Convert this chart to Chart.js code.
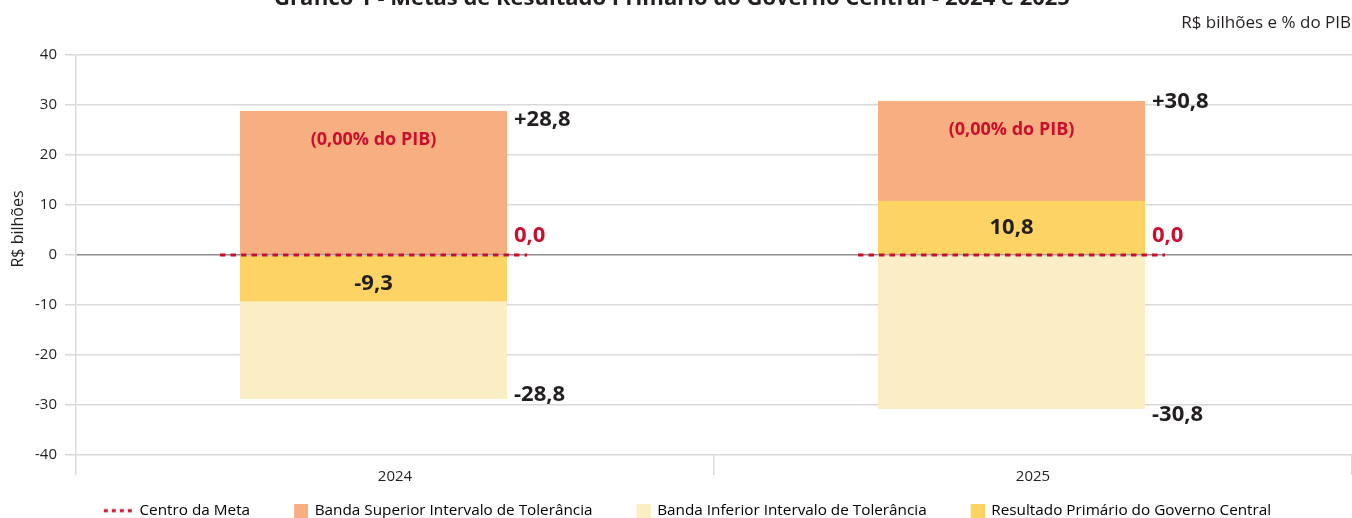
<!DOCTYPE html>
<html><head><meta charset="utf-8">
<script src="https://cdn.jsdelivr.net/npm/chart.js@4.4.1/dist/chart.umd.min.js"></script>
<style>html,body{margin:0;padding:0;background:#fff;overflow:hidden}#wrap{position:relative;width:1352px;height:518px}</style>
</head><body><div id="wrap"><canvas id="c"></canvas></div>
<script>
// ---- data ----
const categories = ['2024', '2025'];
const centroMeta = [0.0, 0.0];
const bandaSuperior = [28.8, 30.8];
const bandaInferior = [-28.8, -30.8];
const resultadoPrimario = [-9.3, 10.8];
const pctPib = ['0,00', '0,00'];
const yTicks = [-40, -30, -20, -10, 0, 10, 20, 30, 40];
const titleText = 'Gráfico 1 - Metas de Resultado Primário do Governo Central - 2024 e 2025';
const unitText = 'R$ bilhões e % do PIB';
const yTitle = 'R$ bilhões';
const legendLabels = ['Centro da Meta', 'Banda Superior Intervalo de Tolerância', 'Banda Inferior Intervalo de Tolerância', 'Resultado Primário do Governo Central'];

// ---- style ----
const C_SUP = '#F7AE80', C_INF = '#FCEEC4', C_RES = '#FDD464', RED = '#C8102E', DARK = '#231F20';
const GRID = '#d9d9d9', ZERO = '#8c8c8c';
const FONT = "'Open Sans', 'DejaVu Sans', sans-serif";
const PAD_LEFT = 11;
const ICON_W = 40;
const supNudge = [9, 1], infNudge = [-4, 6], resNudge = [5, 0];

const fmt = v => v.toFixed(1).replace('.', ',');
const fmtSigned = v => (v > 0 ? '+' : '') + fmt(v);

// legend icons (drawn at the right end of a wider box)
function makeIcon(kind, color) {
  const c = document.createElement('canvas');
  c.width = ICON_W + 2; c.height = 14;
  const g = c.getContext('2d');
  if (kind === 'dash') {
    g.strokeStyle = color; g.lineWidth = 3; g.setLineDash([4, 4]);
    g.beginPath(); g.moveTo(c.width - 29, 7); g.lineTo(c.width - 1, 7); g.stroke();
  } else {
    g.fillStyle = color; g.fillRect(c.width - 14, 0, 14, 14);
  }
  return c;
}

const barOpts = { stack: 'meta', categoryPercentage: 0.1348, barPercentage: 6.21, borderWidth: 0 };

const annot = {
  id: 'annot',
  afterDatasetsDraw(chart) {
    const { ctx, scales: { y } } = chart;
    const meta = chart.getDatasetMeta(0);
    ctx.save();
    meta.data.forEach((bar, i) => {
      const half = bar.width / 2;
      const left = bar.x - half, right = bar.x + half;
      const y0 = y.getPixelForValue(centroMeta[i]);
      const ySup = y.getPixelForValue(bandaSuperior[i]);
      const yInf = y.getPixelForValue(bandaInferior[i]);
      const yRes = y.getPixelForValue(resultadoPrimario[i]);
      ctx.strokeStyle = RED; ctx.lineWidth = 3; ctx.setLineDash([5.5, 5]);
      ctx.beginPath(); ctx.moveTo(left - 20, y0); ctx.lineTo(right + 20, y0); ctx.stroke();
      ctx.setLineDash([]);
      ctx.textBaseline = 'middle';
      ctx.font = "bold 18px " + FONT; ctx.fillStyle = RED; ctx.textAlign = 'center';
      ctx.fillText('(' + pctPib[i] + '% do PIB)', bar.x, ySup + 29);
      ctx.font = "bold 22px " + FONT; ctx.textAlign = 'left';
      ctx.fillStyle = DARK;
      ctx.fillText(fmtSigned(bandaSuperior[i]), right + 7, ySup + supNudge[i]);
      ctx.fillText(fmt(bandaInferior[i]), right + 7, yInf + infNudge[i]);
      ctx.fillStyle = RED;
      ctx.fillText(fmt(centroMeta[i]), right + 7, y0 - 19);
      ctx.fillStyle = DARK; ctx.textAlign = 'center';
      ctx.fillText(fmt(resultadoPrimario[i]), bar.x, (y0 + yRes) / 2 + resNudge[i]);
    });
    ctx.restore();
  },
  afterDraw(chart) {
    const ctx = chart.ctx;
    ctx.save();
    ctx.fillStyle = DARK;
    ctx.textBaseline = 'alphabetic';
    ctx.font = "bold 22px " + FONT; ctx.textAlign = 'center';
    ctx.fillText(titleText, chart.width / 2 - 4, 5);
    ctx.font = "17px " + FONT; ctx.textAlign = 'right';
    ctx.fillText(unitText, chart.width - 1, 28);
    ctx.translate(18, 229); ctx.rotate(-Math.PI / 2);
    ctx.font = "16px " + FONT; ctx.textAlign = 'center'; ctx.textBaseline = 'middle';
    ctx.fillText(yTitle, 0, 0);
    ctx.restore();
  }
};

new Chart(document.getElementById('c'), {
  type: 'bar',
  data: {
    labels: categories,
    datasets: [
      Object.assign({ label: legendLabels[1], backgroundColor: C_SUP,
        data: categories.map((_, i) => [Math.max(centroMeta[i], resultadoPrimario[i]), bandaSuperior[i]]) }, barOpts),
      Object.assign({ label: legendLabels[3], backgroundColor: C_RES,
        data: categories.map((_, i) => [centroMeta[i], resultadoPrimario[i]]) }, barOpts),
      Object.assign({ label: legendLabels[2], backgroundColor: C_INF,
        data: categories.map((_, i) => [bandaInferior[i], Math.min(centroMeta[i], resultadoPrimario[i])]) }, barOpts),
      { label: '', data: categories.map(() => null), stack: 'spacer', categoryPercentage: 0.1348, barPercentage: 6.21 }
    ]
  },
  options: {
    responsive: true, maintainAspectRatio: false, animation: false,
    layout: { padding: { left: PAD_LEFT, right: 0, top: 55, bottom: 0 } },
    plugins: {
      title: { display: false }, tooltip: { enabled: false },
      legend: {
        position: 'bottom', maxHeight: 32,
        labels: {
          font: { family: FONT, size: 15.3 }, color: DARK, padding: 17,
          usePointStyle: true, pointStyleWidth: ICON_W, boxHeight: 14,
          generateLabels: () => [
            { text: legendLabels[0], pointStyle: makeIcon('dash', RED), fillStyle: RED, strokeStyle: RED, lineWidth: 0, hidden: false, datasetIndex: -1 },
            { text: legendLabels[1], pointStyle: makeIcon('rect', C_SUP), fillStyle: C_SUP, strokeStyle: C_SUP, lineWidth: 0, hidden: false, datasetIndex: 0 },
            { text: legendLabels[2], pointStyle: makeIcon('rect', C_INF), fillStyle: C_INF, strokeStyle: C_INF, lineWidth: 0, hidden: false, datasetIndex: 2 },
            { text: legendLabels[3], pointStyle: makeIcon('rect', C_RES), fillStyle: C_RES, strokeStyle: C_RES, lineWidth: 0, hidden: false, datasetIndex: 1 }
          ]
        }
      }
    },
    scales: {
      x: {
        type: 'category', offset: true,
        grid: { display: true, drawOnChartArea: false, offset: true, tickLength: 20, color: GRID, lineWidth: 1.5 },
        border: { display: false },
        ticks: { font: { family: FONT, size: 15 }, color: DARK, padding: -7 },
        afterFit: s => { s.height = 31; }
      },
      y: {
        stacked: false, min: -40, max: 40,
        afterBuildTicks: s => { s.ticks = yTicks.map(v => ({ value: v })); },
        ticks: { font: { family: FONT, size: 15 }, color: DARK, padding: 8, callback: v => String(v) },
        grid: { color: c => (c.tick && c.tick.value === 0 ? ZERO : GRID), tickColor: GRID, lineWidth: 1.5, tickLength: 11 },
        border: { display: true, color: GRID, width: 1.5 },
        title: { display: false },
        afterFit: s => { s.width = 76 - PAD_LEFT; }
      }
    }
  },
  plugins: [annot]
});
</script>
</body></html>
